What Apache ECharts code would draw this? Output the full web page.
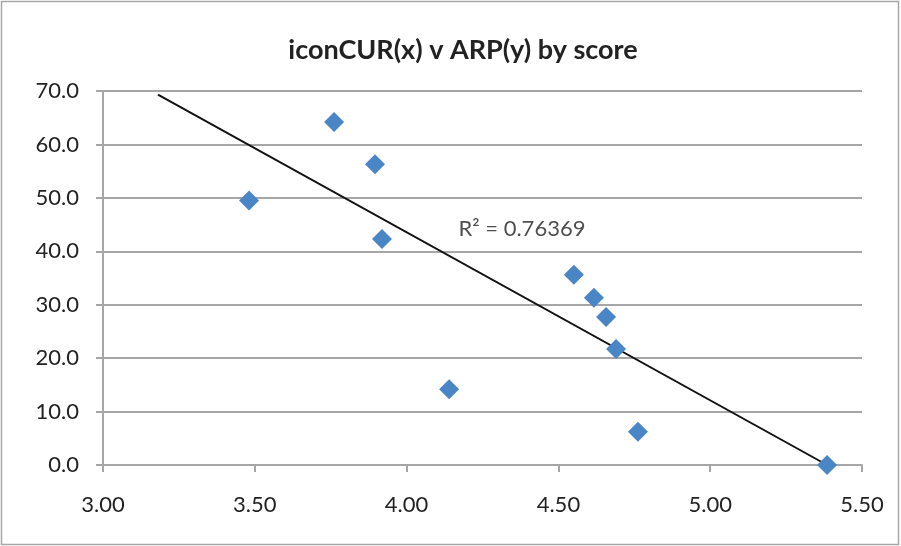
<!DOCTYPE html>
<html><head><meta charset="utf-8">
<script src="https://cdn.jsdelivr.net/npm/echarts@6/dist/echarts.min.js"></script>
<style>html,body{margin:0;padding:0;background:#fff}#c{width:901px;height:546px}</style>
</head><body><div id="c"></div>
<script>
const titleText = 'iconCUR(x) v ARP(y) by score';
const xValues = [3.481, 3.761, 3.896, 3.919, 4.140, 4.551, 4.617, 4.657, 4.690, 4.762, 5.385];
const yValues = [49.5, 64.2, 56.3, 42.3, 14.2, 35.6, 31.3, 27.7, 21.7, 6.2, 0.0];
const trendX = [3.181, 5.385];
const trendY = [69.3, 0.0];
const r2Label = 'R² = 0.76369';
const r2Pos = [4.38, 44.2];

const font = 'Lato, "Open Sans", sans-serif';
const chart = echarts.init(document.getElementById('c'));
chart.setOption({
  animation: false,
  backgroundColor: '#fff',
  title: { text: titleText, left: 458, textAlign: 'center', top: 32,
    textStyle: { fontFamily: font, fontWeight: 'bold', fontSize: 27, color: '#222' } },
  grid: { left: 103, right: 39, top: 91, bottom: 81 },
  graphic: [{ type: 'rect', shape: { x: 1.5, y: 1.5, width: 897, height: 543 },
    style: { fill: 'none', stroke: '#a6a6a6', lineWidth: 1.5 }, silent: true }],
  xAxis: { type: 'value', min: 3, max: 5.5, interval: 0.5,
    axisLine: { show: true, lineStyle: { color: '#a6a6a6', width: 2 } },
    axisTick: { show: true, length: 7, lineStyle: { color: '#a6a6a6', width: 2 } },
    splitLine: { show: false },
    axisLabel: { margin: 29, fontFamily: font, fontSize: 22, color: '#222',
      formatter: v => v.toFixed(2) } },
  yAxis: { type: 'value', min: 0, max: 70, interval: 10,
    axisLine: { show: true, lineStyle: { color: '#a6a6a6', width: 2 } },
    axisTick: { show: true, length: 7, lineStyle: { color: '#a6a6a6', width: 2 } },
    splitLine: { show: true, lineStyle: { color: '#a6a6a6', width: 2 } },
    axisLabel: { margin: 24, fontFamily: font, fontSize: 22, color: '#222',
      formatter: v => v.toFixed(1) } },
  series: [
    { type: 'line', data: trendX.map((x, i) => [x, trendY[i]]), symbol: 'none',
      lineStyle: { color: '#111', width: 2 }, z: 3, silent: true },
    { type: 'scatter', data: xValues.map((x, i) => [x, yValues[i]]), symbol: 'diamond',
      symbolSize: 20, itemStyle: { color: '#4a86c6', opacity: 1 }, z: 4 },
    { type: 'scatter', data: [r2Pos], symbolSize: 0, z: 5, silent: true,
      label: { show: true, position: 'inside', formatter: r2Label,
        fontFamily: font, fontSize: 22, color: '#222' } }
  ]
});
</script></body></html>
